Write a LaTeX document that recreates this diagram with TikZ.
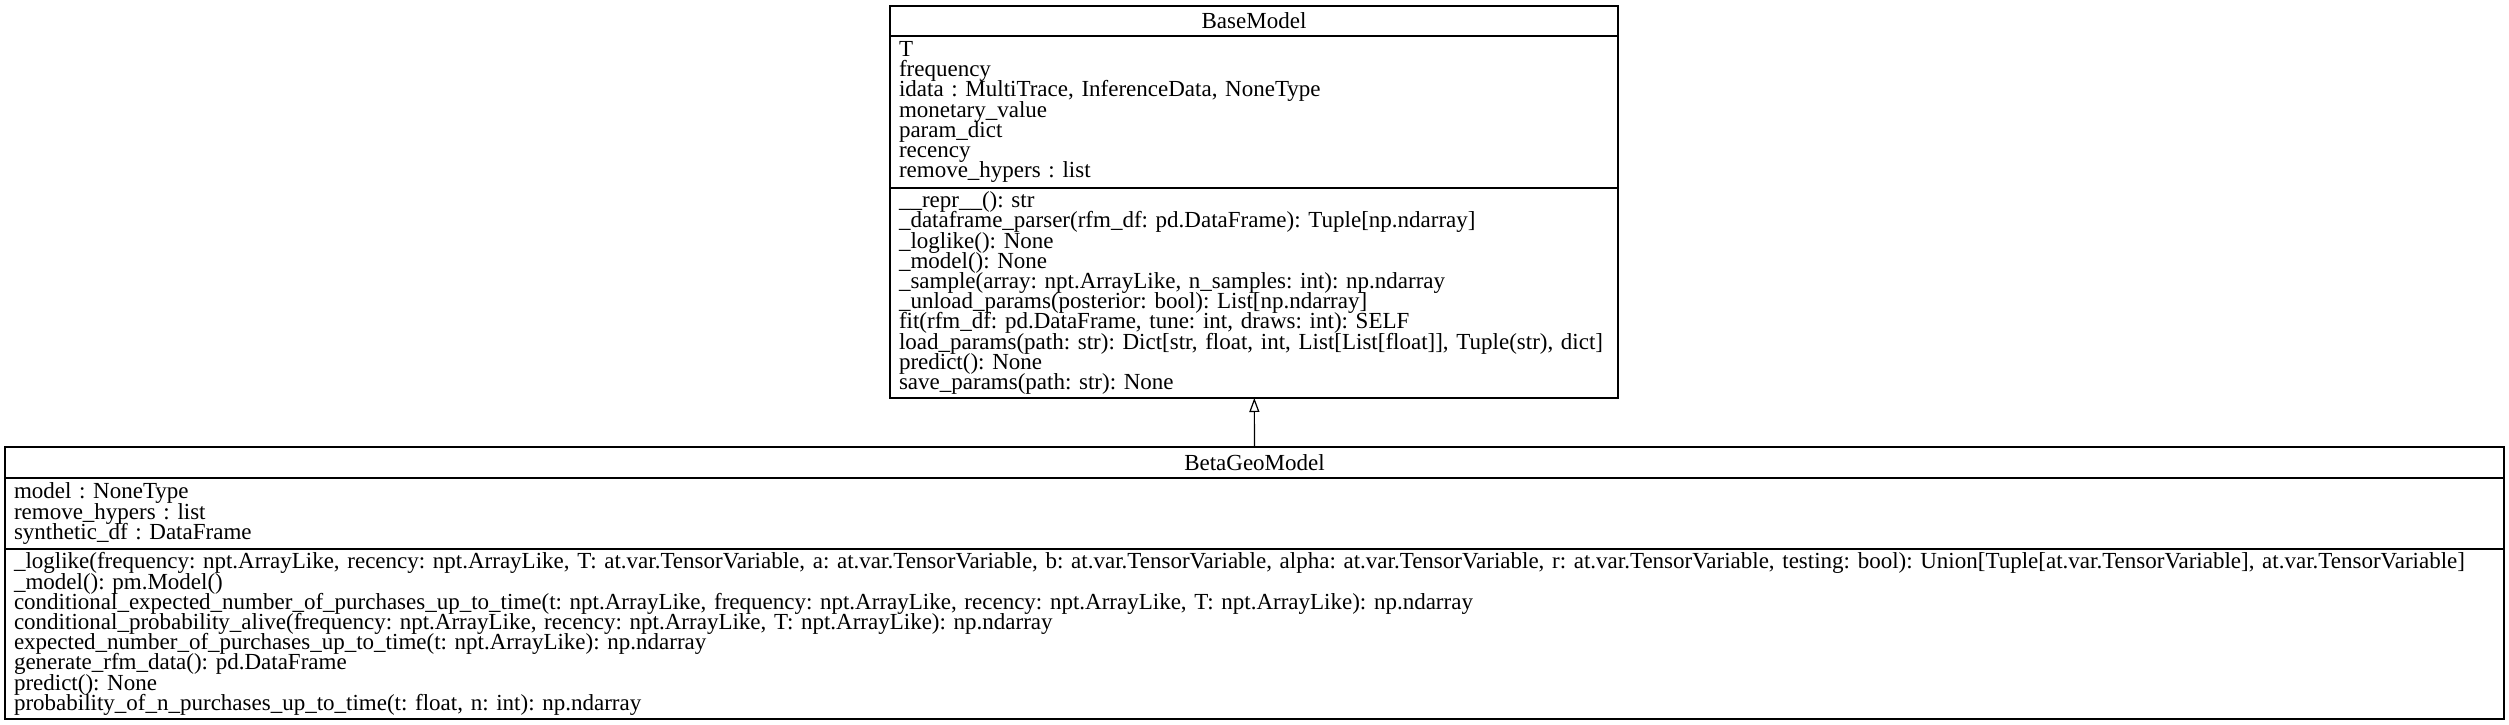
\documentclass[tikz,border=0pt]{standalone}
\usepackage{fontspec}
\setmainfont{Liberation Serif}
\usepackage{tikz}
\usetikzlibrary{arrows.meta, positioning}

\begin{document}
\begin{tikzpicture}[
  x=1pt, y=-1pt,
  every node/.style={font={\fontsize{23}{20.2}\selectfont},
                     execute at begin node={\frenchspacing\lineskiplimit=-100pt\lineskip=0pt}},
  classname/.style={rectangle, draw, line width=1.4pt, inner sep=0pt, outer sep=0pt,
                    align=center},
  classpart/.style={rectangle, draw, line width=1.4pt, inner xsep=9pt, inner ysep=0pt,
                    outer sep=0pt, align=left},
  inherit/.style={-{Triangle[open, length=14pt, width=10pt]}, line width=1.2pt},
]

\useasboundingbox (0,0) rectangle (2509,725);

% Base class
\node[classname, minimum width=728pt, minimum height=30pt, anchor=north west] (base) at (890,6) {BaseModel};
\node[classpart, text width=710pt, minimum height=152pt, below=0pt of base] (baseattr)
  {T\\frequency\\idata : MultiTrace, InferenceData, NoneType\\monetary\_value\\param\_dict\\recency\\remove\_hypers : list};
\node[classpart, text width=710pt, minimum height=210pt, below=0pt of baseattr] (basemeth)
  {\_\_repr\_\_(): str\\
   \_dataframe\_parser(rfm\_df: pd.DataFrame): Tuple[np.ndarray]\\
   \_loglike(): None\\
   \_model(): None\\
   \_sample(array: npt.ArrayLike, n\_samples: int): np.ndarray\\
   \_unload\_params(posterior: bool): List[np.ndarray]\\
   fit(rfm\_df: pd.DataFrame, tune: int, draws: int): SELF\\
   load\_params(path: str): Dict[str, float, int, List[List[float]], Tuple(str), dict]\\
   predict(): None\\
   save\_params(path: str): None};

% Derived class
\node[classname, minimum width=2499pt, minimum height=31pt, anchor=north west] (betageo) at (5,447) {BetaGeoModel};
\node[classpart, text width=2481pt, minimum height=71pt, below=0pt of betageo] (betaattr)
  {model : NoneType\\remove\_hypers : list\\synthetic\_df : DataFrame};
\node[classpart, text width=2481pt, minimum height=170pt, below=0pt of betaattr] (betameth)
  {\_loglike(frequency: npt.ArrayLike, recency: npt.ArrayLike, T: at.var.TensorVariable, a: at.var.TensorVariable, b: at.var.TensorVariable, alpha: at.var.TensorVariable, r: at.var.TensorVariable, testing: bool): Union[Tuple[at.var.TensorVariable], at.var.TensorVariable]\\
   \_model(): pm.Model()\\
   conditional\_expected\_number\_of\_purchases\_up\_to\_time(t: npt.ArrayLike, frequency: npt.ArrayLike, recency: npt.ArrayLike, T: npt.ArrayLike): np.ndarray\\
   conditional\_probability\_alive(frequency: npt.ArrayLike, recency: npt.ArrayLike, T: npt.ArrayLike): np.ndarray\\
   expected\_number\_of\_purchases\_up\_to\_time(t: npt.ArrayLike): np.ndarray\\
   generate\_rfm\_data(): pd.DataFrame\\
   predict(): None\\
   probability\_of\_n\_purchases\_up\_to\_time(t: float, n: int): np.ndarray};

% Inheritance
\draw[inherit] (betageo) -- (basemeth);

\end{tikzpicture}
\end{document}
